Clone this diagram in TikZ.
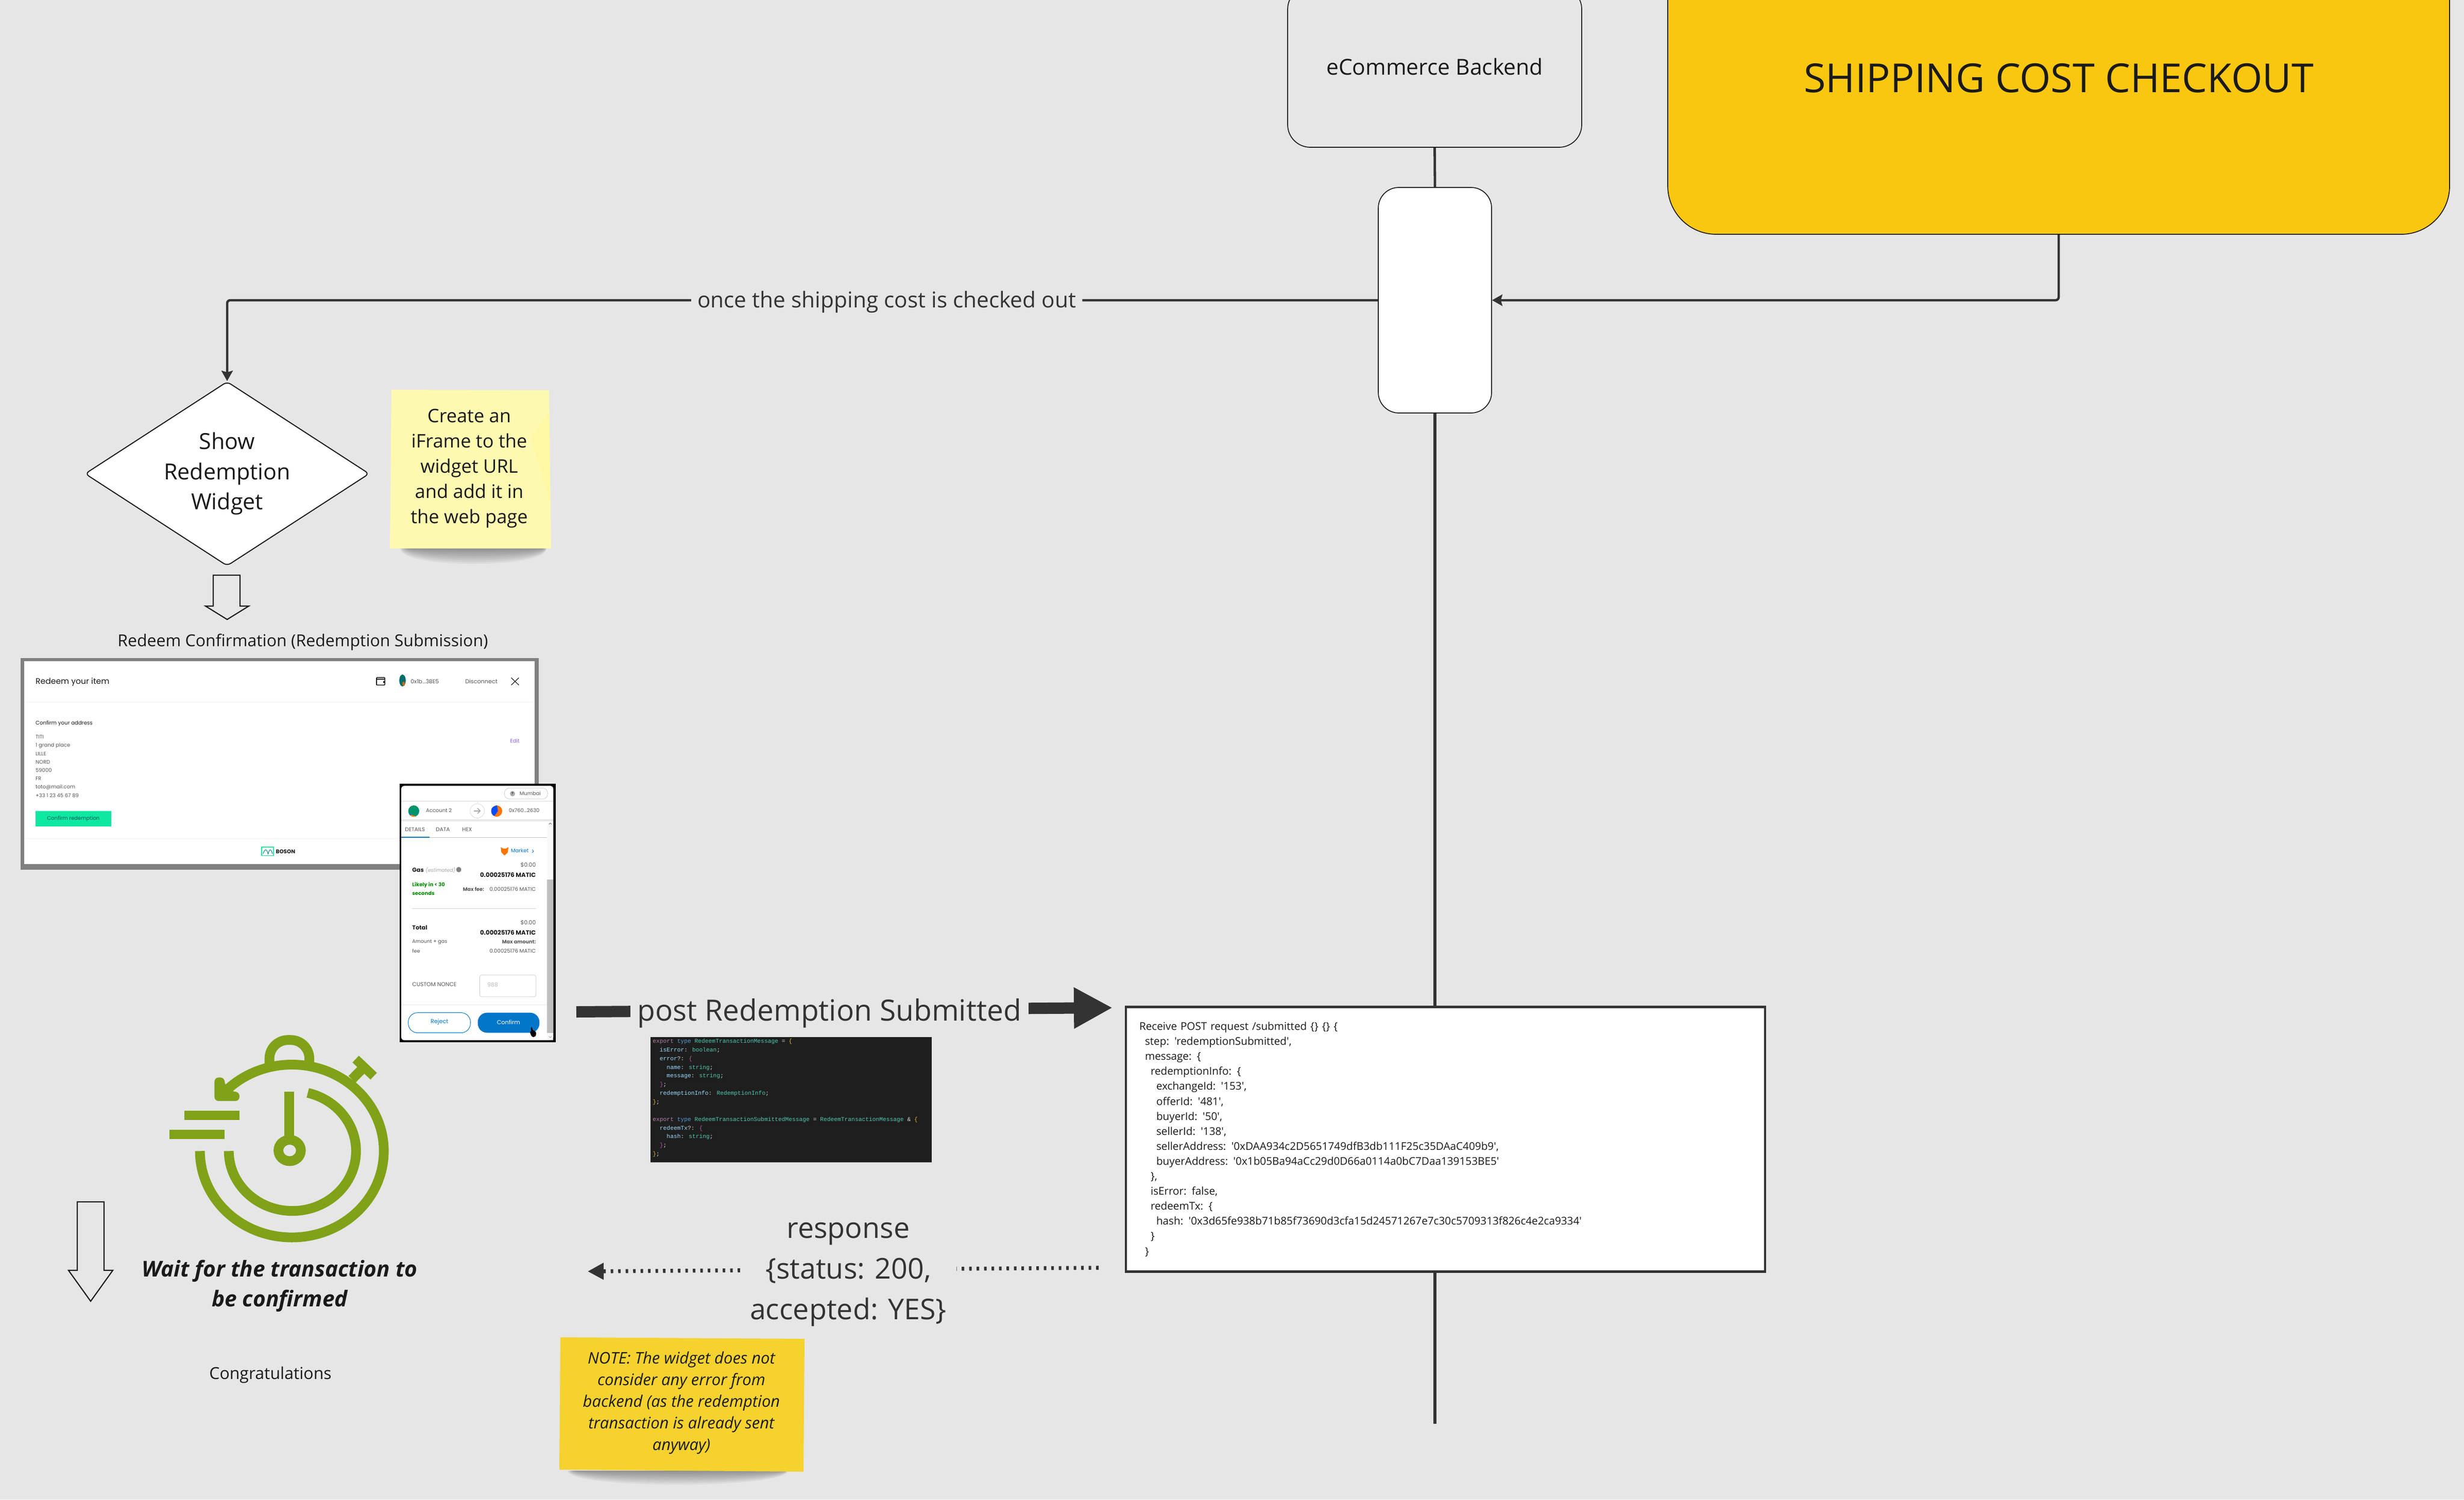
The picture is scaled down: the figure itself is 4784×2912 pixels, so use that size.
\documentclass[tikz,border=0pt]{standalone}
\usepackage{fontspec}
\usetikzlibrary{shapes.geometric,arrows.meta}
\newfontfamily\oslight{Open Sans}
\newfontfamily\uifont{Poppins}
\newfontfamily\codefont{Liberation Mono}
\definecolor{bgc}{HTML}{E6E6E6}
\definecolor{ink}{HTML}{1A1A1A}
\definecolor{wire}{HTML}{333333}
\definecolor{shipy}{HTML}{FAC710}
\definecolor{notey}{HTML}{F5D22E}
\definecolor{sticky}{HTML}{FEF9B0}
\definecolor{clockg}{HTML}{7FA218}
\definecolor{frameg}{HTML}{808080}
\definecolor{mmblue}{HTML}{0376C9}
\definecolor{uigray}{HTML}{555555}
\definecolor{uiline}{HTML}{E8E8E8}
\definecolor{codebg}{HTML}{1E1E1E}
\definecolor{codeK}{HTML}{B57FB0}
\definecolor{codeT}{HTML}{569CD6}
\definecolor{codeN}{HTML}{4EC9B0}
\definecolor{codeF}{HTML}{9CDCFE}
\definecolor{codeB}{HTML}{E6B422}
\definecolor{codeP}{HTML}{C050B0}
\definecolor{bosongreen}{HTML}{0FE8A0}
\definecolor{bosonedit}{HTML}{8B5CF6}
\newcommand{\ck}[1]{\textcolor{codeK}{#1}}
\newcommand{\ct}[1]{\textcolor{codeT}{#1}}
\newcommand{\cn}[1]{\textcolor{codeN}{#1}}
\newcommand{\cf}[1]{\textcolor{codeF}{#1}}
\newcommand{\cy}[1]{\textcolor{codeB}{#1}}
\newcommand{\cp}[1]{\textcolor{codeP}{#1}}
\newcommand{\cw}[1]{\textcolor{white!85!black}{#1}}
\newcommand{\iA}{\hspace*{5.5pt}}
\newcommand{\iB}{\hspace*{11pt}}
\newcommand{\iC}{\hspace*{16.5pt}}
\newcommand{\mtxt}[5]{\node[anchor=#3,inner sep=0pt,#4] (#1) at (#2) {#5};}
\newcommand{\softshadow}[4]{%
  \foreach \k in {1,...,8}{%
    \fill[black,opacity=.05] ({#1+(9-\k)*#4*.05},#3) -- ({#2-(9-\k)*#4*.02},#3)
      .. controls ({#2-(9-\k)*#4*.03},{#3+#4*\k/8}) and ({#1+(9-\k)*#4*.07},{#3+#4*\k/8})
      .. ({#1+(9-\k)*#4*.05},#3);}}
\tikzset{
  box/.style={draw=ink,line width=.85pt},
  wirep/.style={draw=wire,line width=2.25pt,rounded corners=3pt},
  tipsm/.style={-{Stealth[length=10pt,width=11pt,inset=1.5pt]}},
  hollow/.style={draw=ink,line width=1.1pt,fill=none,line join=miter},
  body/.style 2 args={font=\oslight\fontsize{#1}{#2}\selectfont,text=ink,align=center},
  lab/.style 2 args={font=\oslight\fontsize{#1}{#2}\selectfont,text=wire,align=center,fill=bgc},
  ui/.style={font=\uifont\fontsize{#1}{#1}\selectfont},
  hole/.style={draw=clockg,line width=9.45pt},
}
\begin{document}
\begin{tikzpicture}[x=.5pt,y=-.5pt]
\useasboundingbox (0,0) rectangle (4784,2912);
\clip (0,0) rectangle (4784,2912);
\fill[bgc] (0,0) rectangle (4784,2912);

% ---- main boxes
\node[box,rounded corners=22pt,minimum width=285.5pt,minimum height=156pt,inner sep=0pt,body={21.3}{29}] (backend) at (2785.5,130) {eCommerce Backend};
\node[box,rounded corners=47pt,fill=shipy,minimum width=759pt,minimum height=303pt,inner sep=0pt,body={38.8}{52}] (ship) at (3997,152) {SHIPPING COST CHECKOUT};
\node[box,rounded corners=20pt,fill=white,minimum width=110pt,minimum height=219pt,inner sep=0pt] (gate) at (2786,583) {};
\node[draw=wire,line width=2.3pt,fill=white,minimum width=620.5pt,minimum height=257pt,inner sep=0pt,text width=594.5pt,align=left,text=ink,font=\oslight\fontsize{10.35}{14.55}\selectfont] (server) at (2806.5,2212.5) {Receive POST request /submitted \{\} \{\} \{\\
\iA step: 'redemptionSubmitted',\\
\iA message: \{\\
\iB redemptionInfo: \{\\
\iC exchangeId: '153',\\
\iC offerId: '481',\\
\iC buyerId: '50',\\
\iC sellerId: '138',\\
\iC sellerAddress: '0xDAA934c2D5651749dfB3db111F25c35DAaC409b9',\\
\iC buyerAddress: '0x1b05Ba94aCc29d0D66a0114a0bC7Daa139153BE5'\\
\iB \},\\
\iB isError: false,\\
\iB redeemTx: \{\\
\iC hash: '0x3d65fe938b71b85f73690d3cfa15d24571267e7c30c5709313f826c4e2ca9334'\\
\iB \}\\
\iA \}};
\node[diamond,aspect=1.54,draw=ink,line width=1pt,fill=white,rounded corners=4pt,minimum width=276pt,minimum height=179pt,inner sep=0pt,body={21.5}{29.25}] (widget) at (441,920) {Show\\Redemption\\Widget};

% ---- spine and connectors
\coordinate (spineEnd) at (2786,2765);
\draw[wire,line width=2.4pt] (backend.south) -- (gate.north);
\draw[wire,line width=2.8pt] (gate.south) -- (gate.south |- server.north);
\draw[wire,line width=2.8pt] (gate.south |- server.south) -- (spineEnd);
\draw[wirep,tipsm] (ship.south) |- (gate.east);
\draw[wirep,tipsm] (gate.west) -| node[pos=.2134,yshift=-1.5pt,lab={21.2}{29},inner xsep=6pt,inner ysep=2pt] (onceL) {once the shipping cost is checked out} (widget.north);

% ---- hollow arrows
\draw[hollow] (414,1117) -- (466,1117) -- (466,1177) -- (483,1177) -- (441,1203) -- (399,1177) -- (414,1177) -- cycle;
\draw[hollow] (150,2334) -- (202,2334) -- (202,2467) -- (219,2467) -- (176,2527) -- (133,2467) -- (150,2467) -- cycle;

% ---- sticky 1
\softshadow{775}{1062}{1065}{40}
\fill[sticky] (760,757) -- (1066,758) -- (1070,1065) -- (757,1065) -- cycle;
\fill[yellow!55!sticky,opacity=.12] (1066,800) -- (1068,975) -- (1030,850) -- cycle;
\node[inner sep=0pt,body={18.1}{24.5}] (stickyT) at (911,910) {Create an\\iFrame to the\\widget URL\\and add it in\\the web page};

% ---- titles
\node[inner sep=0pt,body={16}{22}] (redeemT) at (588,1247) {Redeem Confirmation (Redemption Submission)};

% ---- Redeem screenshot
\begin{scope}[shift={(0,1220)},x=.35075pt,y=-.2615pt]
  \fill[frameg] (57,110) rectangle (1491,896);
  \fill[white] (67,122) rectangle (1480,876);
  \draw[uiline!60!white,line width=.6pt] (67,274) -- (1480,274);
  \draw[uiline!60!white,line width=.6pt] (67,781) -- (1480,781);
  \mtxt{rTitle}{98,199}{west}{ui=7.8,text=ink}{Redeem your item}
  \draw[ink,line width=.8pt,rounded corners=.6pt] (1042,183) rectangle (1065,211);
  \draw[ink,line width=.8pt] (1042,189) -- (1065,189);
  \fill[black] (1060,197) rectangle (1065,203);
  \fill[teal!85!black] (1114,194) circle[x radius=9,y radius=22];
  \fill[orange!80!black] (1117,206) circle[x radius=4,y radius=8];
  \mtxt{rAddr}{1136,198}{west}{ui=5.4,text=uigray}{0x1b...3BE5}
  \mtxt{rDisc}{1287,198}{west}{ui=5.6,text=uigray}{Disconnect}
  \draw[ink,line width=.6pt] (1415,184) -- (1436,211) (1415,211) -- (1436,184);
  \mtxt{rConf}{98,353}{west}{ui=5.1,text=ink}{Confirm your address}
  \mtxt{rA1}{98,404}{west}{ui=5,text=uigray}{TITI}
  \mtxt{rA2}{98,436}{west}{ui=5,text=uigray}{1 grand place}
  \mtxt{rA3}{98,466}{west}{ui=5,text=uigray}{LILLE}
  \mtxt{rA4}{98,497}{west}{ui=5,text=uigray}{NORD}
  \mtxt{rA5}{98,528}{west}{ui=5,text=uigray}{59000}
  \mtxt{rA6}{98,559}{west}{ui=5,text=uigray}{FR}
  \mtxt{rA7}{98,591}{west}{ui=5,text=uigray}{toto@mail.com}
  \mtxt{rA8}{98,621}{west}{ui=5,text=uigray}{+33 1 23 45 67 89}
  \mtxt{rEdit}{1425,419}{center}{ui=5,text=bosonedit}{Edit}
  \fill[bosongreen] (99,679) rectangle (308,737);
  \mtxt{rBtn}{203,708}{center}{ui=5,text=teal!70!black}{Confirm redemption}
  \draw[bosongreen,line width=.8pt] (724,813) rectangle (757,844);
  \draw[teal,line width=.5pt] (728,838) .. controls (733,818) and (738,818) .. (742,838) .. controls (746,818) and (750,818) .. (754,838);
  \mtxt{rBos}{763,829}{west}{ui=5.2,text=ink,font=\uifont\bfseries\fontsize{5.2}{5.2}\selectfont}{BOSON}
\end{scope}

% ---- MetaMask screenshot
\begin{scope}[shift={(740,1500)},x=.16667pt,y=-.1722pt]
  \fill[black] (108,65) rectangle (1018,1521);
  \fill[white,rounded corners=3pt] (117,76) rectangle (1003,1510);
  \draw[gray!40,line width=.4pt,fill=white,rounded corners=5pt] (718,88) rectangle (970,150);
  \fill[gray!65] (765,120) circle[x radius=15,y radius=15];
  \mtxt{mQ}{765,120}{center}{ui=3.5,text=black}{?}
  \mtxt{mMum}{805,117}{west}{ui=5,text=uigray}{Mumbai}
  \draw[uiline,line width=1pt] (117,163) -- (1003,163);
  \draw[uiline,line width=1.6pt] (117,270) -- (1003,270);
  \draw[uiline,line width=.4pt] (562,163) -- (562,270);
  \draw[gray!30,line width=.4pt,fill=white] (560,217) circle[x radius=42,y radius=40];
  \draw[gray!70,line width=.8pt,-{Straight Barb[length=2.5pt,width=5pt]}] (540,217) -- (580,217);
  \begin{scope}
    \clip (190,218) circle[x radius=32,y radius=32];
    \fill[teal!85!green] (150,180) rectangle (230,260);
    \fill[orange] (150,232) -- (230,255) -- (230,260) -- (150,260) -- cycle;
    \fill[blue!60!cyan] (150,228) -- (172,235) -- (172,250) -- (150,250) -- cycle;
  \end{scope}
  \mtxt{mAcc}{260,214}{west}{ui=5,text=uigray}{Account 2}
  \begin{scope}
    \clip (673,218) circle[x radius=32,y radius=32];
    \fill[orange!90!red] (635,180) rectangle (710,260);
    \fill[blue!70!cyan] (640,200) -- (675,185) -- (680,218) -- (660,245) -- (640,240) -- cycle;
  \end{scope}
  \mtxt{mTo}{742,214}{west}{ui=5,text=uigray}{0x760...2630}
  \fill[gray!5] (966,280) rectangle (1003,1510);
  \fill[gray!50] (966,605) rectangle (1003,1470);
  \draw[gray,line width=.5pt] (977,293) -- (985,285) -- (993,293);
  \draw[gray!60,line width=.5pt] (977,1488) -- (985,1496) -- (993,1488);
  \mtxt{mT1}{138,322}{west}{ui=5.2,text=uigray}{DETAILS}
  \mtxt{mT2}{318,322}{west}{ui=5.2,text=uigray}{DATA}
  \mtxt{mT3}{471,322}{west}{ui=5.2,text=uigray}{HEX}
  \draw[gray!50,line width=.5pt] (117,367) -- (966,367);
  \draw[mmblue,line width=.8pt] (117,365) -- (282,365);
  \fill[orange!90!red] (697,422) -- (712,430) -- (725,430) -- (741,422) -- (738,450) -- (722,466) -- (715,466) -- (700,450) -- cycle;
  \mtxt{mMk}{755,442}{west}{ui=5,text=blue!45!cyan!80!black}{Market}
  \draw[blue!50!cyan!80!black,line width=.4pt] (880,436) -- (888,444) -- (880,452);
  \mtxt{mG0}{902,522}{east}{ui=5.4,text=uigray}{\$0.00}
  \mtxt{mG1}{902,578}{east}{ui=5.4,text=ink,font=\uifont\bfseries\fontsize{5.9}{5.9}\selectfont}{0.00025176 MATIC}
  \mtxt{mGas}{180,550}{west}{ui=5.4,text=ink,font=\uifont\bfseries\fontsize{5.6}{5.6}\selectfont}{Gas}
  \mtxt{mEst}{258,550}{west}{ui=4.8,text=gray!70,font=\uifont\itshape\fontsize{4.8}{4.8}\selectfont}{(estimated)}
  \fill[gray] (452,548) circle[x radius=15,y radius=15];
  \mtxt{mGr1}{180,636}{west}{ui=5,text=green!55!black,font=\uifont\bfseries\fontsize{5}{5}\selectfont}{Likely in < 30}
  \mtxt{mGr2}{180,681}{west}{ui=5,text=green!55!black,font=\uifont\bfseries\fontsize{5}{5}\selectfont}{seconds}
  \mtxt{mMf}{475,659}{west}{ui=4.8,text=uigray,font=\uifont\bfseries\fontsize{4.8}{4.8}\selectfont}{Max fee:}
  \mtxt{mMv}{902,659}{east}{ui=5.1,text=uigray}{0.00025176 MATIC}
  \draw[gray!35,line width=.4pt] (180,767) -- (902,767);
  \mtxt{mT0}{902,847}{east}{ui=5.4,text=uigray}{\$0.00}
  \mtxt{mT1v}{902,904}{east}{ui=5.4,text=ink,font=\uifont\bfseries\fontsize{5.9}{5.9}\selectfont}{0.00025176 MATIC}
  \mtxt{mTot}{180,876}{west}{ui=5.4,text=ink,font=\uifont\bfseries\fontsize{5.6}{5.6}\selectfont}{Total}
  \mtxt{mAm}{180,957}{west}{ui=4.8,text=uigray}{Amount + gas}
  \mtxt{mFee}{180,1008}{west}{ui=4.8,text=uigray}{fee}
  \mtxt{mMa}{902,957}{east}{ui=4.6,text=uigray,font=\uifont\bfseries\fontsize{4.8}{4.8}\selectfont}{Max amount:}
  \mtxt{mMav}{902,1008}{east}{ui=5.1,text=uigray}{0.00025176 MATIC}
  \mtxt{mCn}{180,1194}{west}{ui=5.4,text=uigray}{CUSTOM NONCE}
  \draw[gray!40,line width=.4pt,rounded corners=2pt] (574,1142) rectangle (902,1265);
  \mtxt{mNon}{618,1197}{west}{ui=5.4,text=gray!55}{988}
  \draw[uiline,line width=.5pt] (117,1312) -- (966,1312);
  \draw[mmblue,line width=.5pt,fill=white,rounded corners=9pt] (158,1355) rectangle (520,1468);
  \mtxt{mRej}{340,1408}{center}{ui=5.6,text=mmblue}{Reject}
  \fill[mmblue,rounded corners=9pt] (563,1355) rectangle (922,1468);
  \mtxt{mCon}{742,1408}{center}{ui=5.6,text=white}{Confirm}
  \fill[black,rounded corners=1pt] (872,1436) -- (880,1436) -- (882,1455) -- (900,1458) -- (904,1480) -- (895,1492) -- (878,1492) -- (866,1465) -- (874,1462) -- cycle;
\end{scope}

% ---- post arrow
\coordinate (postA) at (1119,1965);
\coordinate (postB) at (2160,1957);
\draw[wire,line width=11pt,-{Triangle[length=37.5pt,width=37.5pt]}] (postA) -- node[pos=.472,yshift=-3pt,lab={28.4}{38},inner xsep=7pt,inner ysep=0pt] (postL) {post Redemption Submitted} (postB);

% ---- code image
\fill[codebg] (1263,2014) rectangle (1809,2257);
\draw[gray!60,line width=.5pt] (1263,2257) -- (1809,2257);
\node[anchor=north west,inner sep=0pt,align=left,font=\codefont\fontsize{5.64}{8.42}\selectfont,text=white] (codeT) at (1267,2017) {\ck{export} \ct{type} \cn{RedeemTransactionMessage} \cw{=} \cy{\{}\\
\phantom{xx}\cf{isError}\cw{:} \cn{boolean}\cw{;}\\
\phantom{xx}\cf{error}\cw{?:} \cp{\{}\\
\phantom{xxxx}\cf{name}\cw{:} \cn{string}\cw{;}\\
\phantom{xxxx}\cf{message}\cw{:} \cn{string}\cw{;}\\
\phantom{xx}\cp{\}}\cw{;}\\
\phantom{xx}\cf{redemptionInfo}\cw{:} \cn{RedemptionInfo}\cw{;}\\
\cy{\}}\cw{;}\\
\mbox{}\\
\ck{export} \ct{type} \cn{RedeemTransactionSubmittedMessage} \cw{=} \cn{RedeemTransactionMessage} \cw{\&} \cy{\{}\\
\phantom{xx}\cf{redeemTx}\cw{?:} \cp{\{}\\
\phantom{xxxx}\cf{hash}\cw{:} \cn{string}\cw{;}\\
\phantom{xx}\cp{\}}\cw{;}\\
\cy{\}}\cw{;}};

% ---- response arrow
\coordinate (respA) at (2133,2462);
\coordinate (respB) at (1141,2469);
\draw[wire,line width=3.8pt,dash pattern=on 2.4pt off 4.85pt,-{Triangle[length=15.5pt,width=15.5pt]}] (respA) -- node[pos=.49,yshift=-5pt,lab={27.8}{39.5},inner xsep=9.5pt,inner ysep=0pt] (respL) {response\\\{status: 200,\\accepted: YES\}} (respB);

% ---- stopwatch
\begin{scope}[shift={(280,1980)},x=.1785pt,y=-.1785pt]
  \draw[hole] (303,715) arc[start angle=180,end angle=-135,x radius=500,y radius=470];
  \draw[hole] (460,715) arc[start angle=180,end angle=-76,x radius=346,y radius=326];
  \draw[hole,rounded corners=18pt] (681,240) -- (681,111) -- (898,111) -- (898,240);
  \fill[clockg] (762,393) rectangle (816,650);
  \draw[hole] (791,712) ellipse[x radius=61,y radius=58];
  \fill[clockg] (218,496) rectangle (518,547);
  \fill[clockg] (137,598) rectangle (437,650);
  \fill[clockg,rounded corners=4pt] (382,315) -- (437,315) -- (437,355) -- (478,393) -- (518,393) -- (518,443) -- (382,443) -- cycle;
  \draw[hole] (1130,325) -- (1182,272);
  \draw[hole,line width=9pt] (1150,215) -- (1248,308);
\end{scope}
\node[inner sep=0pt,font=\oslight\bfseries\itshape\fontsize{21.2}{29}\selectfont,text=ink,align=center] (waitT) at (543,2497) {Wait for the transaction to\\be confirmed};
\node[inner sep=0pt,body={16}{22}] (congrats) at (525,2670) {Congratulations};

% ---- sticky 2
\softshadow{1100}{1530}{2856}{36}
\fill[notey] (1088,2597) -- (1562,2600) -- (1560,2858) -- (1086,2854) -- cycle;
\node[inner sep=0pt,align=center,text=ink,font=\oslight\itshape\fontsize{15.5}{21}\selectfont] (noteT) at (1323,2724) {NOTE: The widget does not\\consider any error from\\backend (as the redemption\\transaction is already sent\\anyway)};
\end{tikzpicture}
\end{document}
